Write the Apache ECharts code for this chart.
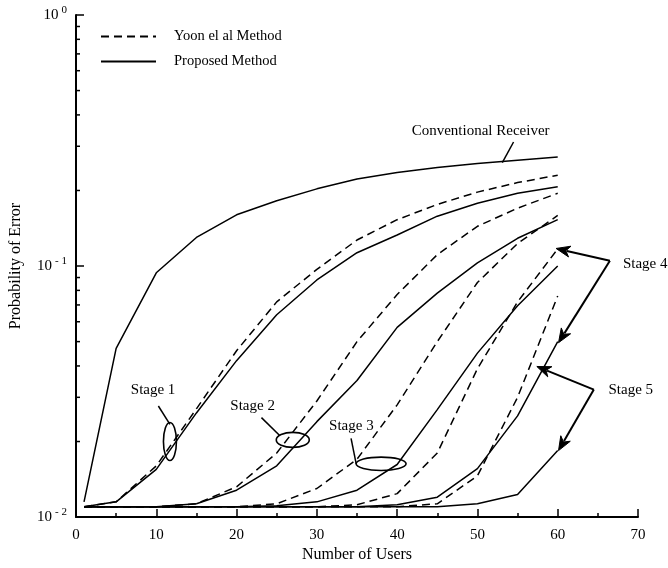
<!DOCTYPE html>
<html>
<head>
<meta charset="utf-8">
<script src="https://cdn.jsdelivr.net/npm/echarts@6/dist/echarts.min.js"></script>
<style>
  html, body { margin: 0; padding: 0; background: #ffffff; }
  #chart { width: 668px; height: 568px; }
</style>
</head>
<body>
<div id="chart"></div>
<script>
// Number of users on the horizontal axis
const users = [1, 5, 10, 15, 20, 25, 30, 35, 40, 45, 50, 55, 60];

// Probability of error, conventional receiver
const conventional = [0.0115, 0.047, 0.094, 0.130, 0.160, 0.182, 0.203, 0.222, 0.236, 0.247, 0.256, 0.264, 0.272];

// Yoon et al. multistage detector, stages 1..5
const yoonStage1 = [0.011, 0.0115, 0.016, 0.027, 0.046, 0.072, 0.097, 0.127, 0.153, 0.176, 0.197, 0.215, 0.230];
const yoonStage2 = [0.011, 0.011, 0.011, 0.0113, 0.0132, 0.018, 0.029, 0.050, 0.077, 0.111, 0.144, 0.170, 0.195];
const yoonStage3 = [0.011, 0.011, 0.011, 0.011, 0.011, 0.0113, 0.013, 0.017, 0.028, 0.050, 0.086, 0.123, 0.159];
const yoonStage4 = [0.011, 0.011, 0.011, 0.011, 0.011, 0.011, 0.011, 0.0112, 0.0124, 0.018, 0.039, 0.072, 0.117];
const yoonStage5 = [0.011, 0.011, 0.011, 0.011, 0.011, 0.011, 0.011, 0.011, 0.011, 0.0113, 0.0146, 0.030, 0.076];

// Proposed multistage detector, stages 1..5
const proposedStage1 = [0.011, 0.0115, 0.0155, 0.026, 0.042, 0.064, 0.088, 0.113, 0.133, 0.158, 0.178, 0.195, 0.207];
const proposedStage2 = [0.011, 0.011, 0.011, 0.0113, 0.0128, 0.016, 0.024, 0.035, 0.057, 0.078, 0.103, 0.129, 0.153];
const proposedStage3 = [0.011, 0.011, 0.011, 0.011, 0.011, 0.0111, 0.0115, 0.0128, 0.0162, 0.0268, 0.045, 0.0695, 0.100];
const proposedStage4 = [0.011, 0.011, 0.011, 0.011, 0.011, 0.011, 0.011, 0.011, 0.0112, 0.0120, 0.0156, 0.0253, 0.050];
const proposedStage5 = [0.011, 0.011, 0.011, 0.011, 0.011, 0.011, 0.011, 0.011, 0.011, 0.011, 0.0113, 0.0123, 0.0184];

// Axis ranges and ticks
const xTickValues = [0, 10, 20, 30, 40, 50, 60, 70];
const yDecades = [0.01, 0.1, 1];
const yMinorTicks = [0.02, 0.03, 0.04, 0.05, 0.06, 0.07, 0.08, 0.09,
                     0.2, 0.3, 0.4, 0.5, 0.6, 0.7, 0.8, 0.9];

const YOON = 'Yoon el al Method';
const PROPOSED = 'Proposed Method';
const FONT = '"Liberation Serif", "DejaVu Serif", serif';

const yoonSets = [yoonStage1, yoonStage2, yoonStage3, yoonStage4, yoonStage5];
const proposedSets = [proposedStage1, proposedStage2, proposedStage3, proposedStage4, proposedStage5];

function curve(name, values, dashed) {
  return {
    type: 'line',
    name: name,
    data: users.map((u, i) => [u, values[i]]),
    symbol: 'none',
    showSymbol: false,
    silent: true,
    animation: false,
    lineStyle: { color: '#000', width: 1.5, type: dashed ? [8, 5] : 'solid' },
    itemStyle: { color: '#000' }
  };
}

const series = [];
series.push(curve('Conventional Receiver', conventional, false));
yoonSets.forEach(s => series.push(curve(YOON, s, true)));
proposedSets.forEach(s => series.push(curve(PROPOSED, s, false)));

// Minor ticks of the logarithmic axis (2..9 within each decade)
series.push({
  type: 'custom',
  name: 'yMinorTicks',
  silent: true,
  animation: false,
  clip: false,
  data: yMinorTicks.map(v => [0, v]),
  renderItem: function (params, api) {
    const p = api.coord([0, api.value(1)]);
    return {
      type: 'line',
      shape: { x1: p[0], y1: p[1], x2: p[0] + 4, y2: p[1] },
      style: { stroke: '#000', lineWidth: 1.5 }
    };
  }
});

const chart = echarts.init(document.getElementById('chart'), null, { renderer: 'canvas' });

const option = {
  backgroundColor: '#ffffff',
  animation: false,
  textStyle: { fontFamily: FONT, color: '#000' },
  grid: { left: 74, right: 30, top: 15, bottom: 46, containLabel: false },
  legend: {
    data: [YOON, PROPOSED],
    orient: 'vertical',
    left: 95,
    top: 24,
    itemWidth: 55,
    itemHeight: 14,
    itemGap: 10,
    selectedMode: false,
    // keep only the line sample in each legend entry
    itemStyle: { color: 'transparent', borderColor: 'transparent', borderWidth: 0 },
    textStyle: { fontFamily: FONT, fontSize: 14.5, color: '#000', padding: [0, 0, 0, 13] }
  },
  xAxis: {
    type: 'value',
    min: xTickValues[0],
    max: xTickValues[xTickValues.length - 1],
    interval: 10,
    name: 'Number of Users',
    nameLocation: 'middle',
    nameGap: 26,
    nameTextStyle: { fontFamily: FONT, fontSize: 16, color: '#000' },
    axisLine: { lineStyle: { color: '#000', width: 2 } },
    axisTick: { inside: true, length: 8, lineStyle: { color: '#000', width: 1.5 } },
    minorTick: { show: true, splitNumber: 2, length: 4, lineStyle: { color: '#000', width: 1.5 } },
    axisLabel: { fontFamily: FONT, fontSize: 15, color: '#000', margin: 10 },
    splitLine: { show: false }
  },
  yAxis: {
    type: 'log',
    logBase: 10,
    min: yDecades[0],
    max: yDecades[yDecades.length - 1],
    name: 'Probability of Error',
    nameLocation: 'middle',
    nameGap: 52,
    nameTextStyle: { fontFamily: FONT, fontSize: 16, color: '#000' },
    axisLine: { show: true, lineStyle: { color: '#000', width: 2 } },
    axisTick: { inside: true, length: 8, lineStyle: { color: '#000', width: 1.5 } },
    axisLabel: {
      margin: 9,
      formatter: function (v) {
        const e = Math.round(Math.log10(v));
        return '{b|10}{s|' + (e === 0 ? '0' : '- ' + Math.abs(e)) + '}';
      },
      rich: {
        b: { fontFamily: FONT, fontSize: 15, color: '#000' },
        s: { fontFamily: FONT, fontSize: 11, color: '#000', padding: [0, 0, 9, 3] }
      }
    },
    splitLine: { show: false }
  },
  series: series
};

chart.setOption(option);

// Annotation anchors in data coordinates [users, probability]
const stageEllipses = [
  { c: [11.7, 0.0200], rx: 6.5, ry: 19 },
  { c: [27.0, 0.0203], rx: 16.5, ry: 7.5 },
  { c: [38.0, 0.0163], rx: 25, ry: 6.7 }
];
const plainLabels = [
  { text: 'Stage 1', at: [9.6, 0.032] },
  { text: 'Stage 2', at: [22.0, 0.0277] },
  { text: 'Stage 3', at: [34.3, 0.0231] },
  { text: 'Conventional Receiver', at: [50.4, 0.344] }
];
const leaders = [
  [[10.26, 0.0277], [11.7, 0.0234]],
  [[23.1, 0.0249], [25.4, 0.0211]],
  [[34.26, 0.0206], [34.9, 0.0163]],
  [[54.5, 0.312], [53.1, 0.258]]
];
const arrowGroups = [
  { text: 'Stage 4', label: [70.9, 0.102], vertex: [66.5, 0.105], tips: [[59.8, 0.1175], [60.1, 0.0495]] },
  { text: 'Stage 5', label: [69.1, 0.032], vertex: [64.5, 0.0322], tips: [[57.4, 0.0398], [60.1, 0.0184]] }
];

function px(p) { return chart.convertToPixel({ gridIndex: 0 }, p); }

function buildGraphics() {
  const g = [];
  const stroke = { stroke: '#000', lineWidth: 1.6, fill: null };
  stageEllipses.forEach(e => {
    const c = px(e.c);
    g.push({ type: 'ellipse', shape: { cx: c[0], cy: c[1], rx: e.rx, ry: e.ry }, style: Object.assign({}, stroke), silent: true, z: 50 });
  });
  leaders.forEach(l => {
    const a = px(l[0]), b = px(l[1]);
    g.push({ type: 'line', shape: { x1: a[0], y1: a[1], x2: b[0], y2: b[1] }, style: { stroke: '#000', lineWidth: 1.5 }, silent: true, z: 50 });
  });
  plainLabels.forEach(t => {
    const p = px(t.at);
    g.push({ type: 'text', x: p[0], y: p[1], silent: true, z: 50,
      style: { text: t.text, font: '15px ' + FONT, fill: '#000', align: 'center', verticalAlign: 'middle' } });
  });
  arrowGroups.forEach(a => {
    const lp = px(a.label), v = px(a.vertex);
    g.push({ type: 'text', x: lp[0], y: lp[1], silent: true, z: 50,
      style: { text: a.text, font: '15px ' + FONT, fill: '#000', align: 'center', verticalAlign: 'middle' } });
    a.tips.forEach(t => {
      const tp = px(t);
      const dx = tp[0] - v[0], dy = tp[1] - v[1];
      const len = Math.sqrt(dx * dx + dy * dy);
      const ux = dx / len, uy = dy / len;
      const L = 14, W = 5.5;
      const bx = tp[0] - ux * L, by = tp[1] - uy * L;
      g.push({ type: 'line', shape: { x1: v[0], y1: v[1], x2: bx + ux * 3, y2: by + uy * 3 }, style: { stroke: '#000', lineWidth: 2 }, silent: true, z: 50 });
      g.push({ type: 'polygon', silent: true, z: 51,
        shape: { points: [[tp[0], tp[1]], [bx - uy * W, by + ux * W], [bx + ux * 4, by + uy * 4], [bx + uy * W, by - ux * W]] },
        style: { fill: '#000', stroke: '#000', lineWidth: 1 } });
    });
  });
  return g;
}

chart.setOption({ graphic: buildGraphics() });
</script>
</body>
</html>
